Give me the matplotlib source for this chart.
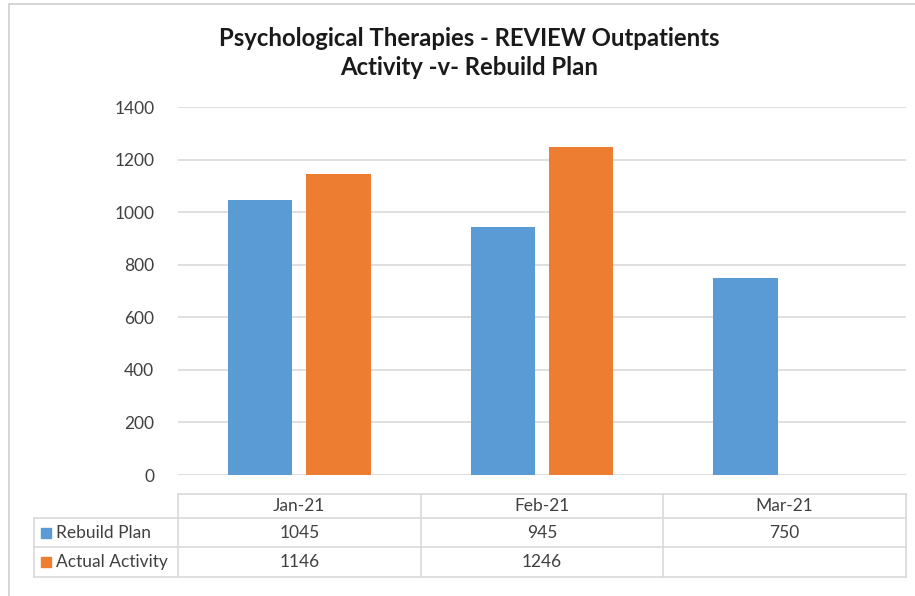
import matplotlib.pyplot as plt
from matplotlib.lines import Line2D
from matplotlib.patches import Rectangle
import numpy as np

months = ['Jan-21', 'Feb-21', 'Mar-21']
series_names = ['Rebuild Plan', 'Actual Activity']
rebuild_plan = [1045, 945, 750]
actual_activity = [1146, 1246, None]
y_ticks = [0, 200, 400, 600, 800, 1000, 1200, 1400]

BLUE = '#5B9BD5'
ORANGE = '#ED7D31'
GRID = '#D9D9D9'
TEXT = '#404040'

plt.rcParams['font.family'] = ['Lato', 'DejaVu Sans']

W, H = 915, 596
fig = plt.figure(figsize=(W / 100, H / 100), dpi=100)


def fx(px):
    return px / W


def fy(py):
    return 1 - py / H


# chart border (only top and left edges are inside the image)
fig.add_artist(Rectangle((fx(9), fy(H + 10)), fx(W + 10), fy(4) - fy(H + 10),
                         transform=fig.transFigure, fill=False, edgecolor='#D0D0D0', lw=1.2))

fig.text(fx(469), fy(53), 'Psychological Therapies - REVIEW Outpatients\nActivity -v- Rebuild Plan',
         ha='center', va='center', fontsize=17.2, fontweight='bold', color='#1a1a1a', linespacing=1.3)

# plot area
left, right, top, bottom = 178, 906, 107, 475
ax = fig.add_axes([fx(left), fy(bottom), fx(right - left), fy(top) - fy(bottom)])
x = np.arange(len(months))
bw = 0.265
off = 0.161
ax.bar(x - off, rebuild_plan, bw, color=BLUE, zorder=3)
act = [np.nan if v is None else v for v in actual_activity]
ax.bar(x + off, act, bw, color=ORANGE, zorder=3)
ax.set_xlim(-0.5, len(months) - 0.5)
ax.set_ylim(0, 1400)
ax.set_yticks(y_ticks)
ax.set_yticklabels([str(t) for t in y_ticks])
ax.tick_params(axis='y', length=0, pad=17, labelsize=12.5, labelcolor=TEXT)
ax.set_xticks([])
ax.grid(axis='y', color=GRID, lw=1.2, zorder=0)
for s in ax.spines.values():
    s.set_visible(False)

# data table under the plot
t_left = 34
row_edges = [494, 518, 547, 577]
col_w = (right - left) / len(months)
col_edges = [left + i * col_w for i in range(len(months) + 1)]


def hline(y, x0, x1):
    fig.add_artist(Line2D([fx(x0), fx(x1)], [fy(y), fy(y)], color=GRID, lw=1.2))


def vline(x_, y0, y1):
    fig.add_artist(Line2D([fx(x_), fx(x_)], [fy(y0), fy(y1)], color=GRID, lw=1.2))


hline(row_edges[0], left, right)
for r in row_edges[1:]:
    hline(r, t_left, right)
vline(t_left, row_edges[1], row_edges[-1])
for c in col_edges:
    vline(c, row_edges[0], row_edges[-1])

for i, m in enumerate(months):
    cx = (col_edges[i] + col_edges[i + 1]) / 2
    fig.text(fx(cx), fy((row_edges[0] + row_edges[1]) / 2), m, ha='center', va='center',
             fontsize=12.5, color=TEXT)

rows = [rebuild_plan, actual_activity]
colors = [BLUE, ORANGE]
for r, (name, vals, c) in enumerate(zip(series_names, rows, colors)):
    cy = (row_edges[r + 1] + row_edges[r + 2]) / 2
    fig.add_artist(Rectangle((fx(41), fy(cy + 5)), fx(10), fy(cy - 5) - fy(cy + 5),
                             transform=fig.transFigure, color=c))
    fig.text(fx(56), fy(cy), name, ha='left', va='center', fontsize=12.5, color=TEXT)
    for i, v in enumerate(vals):
        if v is None:
            continue
        cx = (col_edges[i] + col_edges[i + 1]) / 2
        fig.text(fx(cx), fy(cy), str(v), ha='center', va='center', fontsize=12.5, color=TEXT)

fig.savefig('out.png', dpi=100)
